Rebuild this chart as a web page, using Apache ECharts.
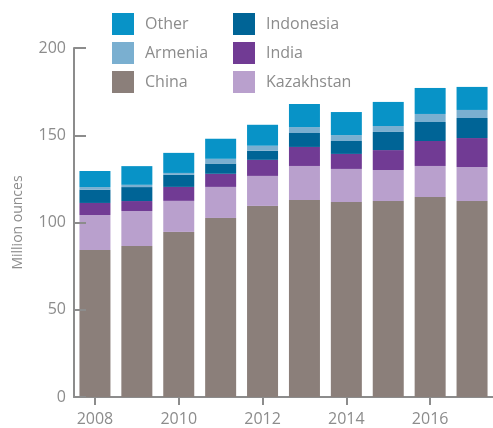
<!DOCTYPE html>
<html>
<head>
<meta charset="utf-8">
<script src="https://cdn.jsdelivr.net/npm/echarts@6/dist/echarts.min.js"></script>
<style>
  html, body { margin: 0; padding: 0; background: #fff; }
  #chart { width: 493px; height: 428px; }
</style>
</head>
<body>
<div id="chart"></div>
<script>
// 数据
var years = ['2008', '2009', '2010', '2011', '2012', '2013', '2014', '2015', '2016', '2017'];
var china = [84.2, 86.5, 94.6, 102.6, 109.5, 112.9, 111.7, 112.3, 114.6, 112.3];
var kazakhstan = [20.1, 20.1, 17.8, 17.8, 17.2, 19.5, 19.0, 17.8, 17.8, 19.5];
var india = [6.9, 5.7, 8.0, 7.5, 9.2, 10.9, 8.6, 11.4, 14.3, 16.6];
var indonesia = [7.6, 8.0, 6.9, 5.9, 5.2, 8.0, 7.4, 10.4, 10.9, 11.5];
var armenia = [1.5, 1.3, 1.1, 2.7, 2.9, 3.4, 3.4, 3.4, 4.6, 4.6];
var other = [9.2, 10.7, 11.5, 11.5, 12.0, 13.2, 13.2, 13.8, 14.9, 13.2];

var grey = '#8c8c8c';
var font = 'Open Sans';

function bar(name, data, color) {
	return {
		name: name,
		type: 'bar',
		stack: 'total',
		barWidth: 31,
		data: data,
		itemStyle: { color: color }
	};
}

function legend(left, names) {
	return {
		orient: 'vertical',
		left: left,
		top: 13,
		padding: 0,
		itemWidth: 22,
		itemHeight: 22,
		itemGap: 7,
		icon: 'rect',
		selectedMode: false,
		data: names,
		textStyle: { color: grey, fontSize: 16, fontFamily: font, padding: [0, 0, 0, 6] }
	};
}

var myChart = echarts.init(document.getElementById('chart'));
myChart.setOption({
	animation: false,
	legend: [
		legend(112, ['Other', 'Armenia', 'China']),
		legend(233, ['Indonesia', 'India', 'Kazakhstan'])
	],
	grid: { left: 74, right: -4, top: 48, bottom: 31, containLabel: false },
	xAxis: {
		type: 'category',
		data: years,
		axisLine: { lineStyle: { color: grey, width: 2 } },
		axisTick: { show: true, interval: 1, alignWithLabel: true, length: 8, lineStyle: { color: grey, width: 2 } },
		axisLabel: { interval: 1, color: grey, fontSize: 16, fontFamily: font, margin: 14 }
	},
	yAxis: {
		type: 'value',
		min: 0,
		max: 200,
		interval: 50,
		z: 5,
		name: 'Million ounces',
		nameLocation: 'middle',
		nameGap: 49,
		nameTextStyle: { color: grey, fontSize: 14, fontFamily: font },
		splitLine: { show: false },
		axisLine: { show: true, lineStyle: { color: grey, width: 2 } },
		axisTick: { show: true, inside: true, length: 12, lineStyle: { color: grey, width: 2 } },
		axisLabel: { color: grey, fontSize: 16, fontFamily: font, margin: 8 }
	},
	series: [
		bar('China', china, '#8b7f7a'),
		bar('Kazakhstan', kazakhstan, '#b9a0cd'),
		bar('India', india, '#713b94'),
		bar('Indonesia', indonesia, '#006496'),
		bar('Armenia', armenia, '#7aafd0'),
		bar('Other', other, '#0893c7')
	]
});
</script>
</body>
</html>
